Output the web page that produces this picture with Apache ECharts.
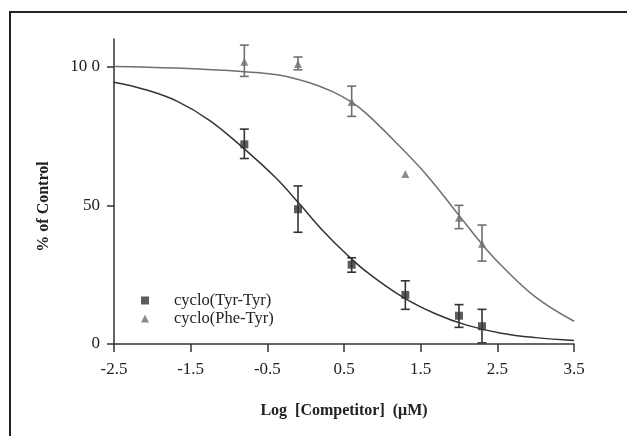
<!DOCTYPE html>
<html>
<head>
<meta charset="utf-8">
<script src="https://cdn.jsdelivr.net/npm/echarts@6/dist/echarts.min.js"></script>
<style>
html,body{margin:0;padding:0;background:#fff;}
#chart{width:627px;height:436px;}
</style>
</head>
<body>
<div id="chart"></div>
<script>
// ---- Data ----
var xTicks = [-2.5, -1.5, -0.5, 0.5, 1.5, 2.5, 3.5];
var yTicks = [0, 50, 100];
var yTickLabels = ['0', '50', '10 0'];

var tyrName = 'cyclo(Tyr-Tyr)';
var tyrX = [-0.8, -0.1, 0.6, 1.3, 2.0, 2.3];
var tyrY = [72.0, 48.6, 28.6, 17.7, 10.2, 6.4];
var tyrLow = [66.9, 40.3, 25.9, 12.5, 6.0, 0.4];
var tyrHigh = [77.5, 57.0, 31.1, 22.8, 14.2, 12.5];

var pheName = 'cyclo(Phe-Tyr)';
var pheX = [-0.8, -0.1, 0.6, 1.3, 2.0, 2.3];
var pheY = [101.8, 101.0, 87.3, 61.3, 45.5, 36.2];
var pheLow = [96.5, 98.9, 82.1, null, 41.6, 29.9];
var pheHigh = [107.8, 103.5, 93.0, null, 50.0, 42.9];

var tyrCurveX = [-2.5, -2.1, -1.68, -1.25, -0.81, -0.4, -0.07, 0.2, 0.55, 0.8, 1.25, 1.7, 2.1, 2.55, 3.0, 3.5];
var tyrCurveY = [94.4, 91.8, 87.6, 80.6, 70.6, 60.2, 50.2, 41.6, 31.9, 25.9, 17.2, 10.8, 6.8, 3.9, 2.3, 1.3];

var pheCurveX = [-2.5, -1.7, -0.8, -0.35, 0.05, 0.35, 0.6, 0.8, 1.23, 1.58, 2.0, 2.3, 2.55, 3.0, 3.5];
var pheCurveY = [100.1, 99.5, 98.2, 97.0, 94.2, 91.0, 87.2, 82.9, 71.2, 60.9, 46.4, 36.0, 28.4, 16.9, 8.2];

// ---- Build ----
function zip(a, b) { return a.map(function (v, i) { return [v, b[i]]; }); }
function errData(x, lo, hi) {
  var out = [];
  for (var i = 0; i < x.length; i++) { if (lo[i] != null && hi[i] != null) out.push([x[i], lo[i], hi[i]]); }
  return out;
}
var DARK = '#333333', GREY = '#6f6f6f';
var FONT = 'Liberation Serif';

function errRender(color) {
  return function (params, api) {
    var x = api.value(0), lo = api.value(1), hi = api.value(2);
    var pH = api.coord([x, hi]), pL = api.coord([x, lo]);
    var w = 4.5;
    var st = { stroke: color, lineWidth: 1.6 };
    return {
      type: 'group',
      children: [
        { type: 'line', shape: { x1: pH[0], y1: pH[1], x2: pL[0], y2: pL[1] }, style: st },
        { type: 'line', shape: { x1: pH[0] - w, y1: pH[1], x2: pH[0] + w, y2: pH[1] }, style: st },
        { type: 'line', shape: { x1: pL[0] - w, y1: pL[1], x2: pL[0] + w, y2: pL[1] }, style: st }
      ]
    };
  };
}

var chart = echarts.init(document.getElementById('chart'), null, { renderer: 'canvas' });
chart.setOption({
  backgroundColor: '#ffffff',
  animation: false,
  textStyle: { fontFamily: FONT },
  graphic: [{
    type: 'polyline',
    shape: { points: [[10, 436], [10, 12], [627, 12]] },
    style: { stroke: '#222', lineWidth: 2, fill: null },
    silent: true
  }],
  grid: { left: 114, right: 53, top: 39, bottom: 92, containLabel: false },
  legend: {
    orient: 'vertical',
    left: 136,
    top: 287,
    itemWidth: 48,
    itemHeight: 8,
    itemGap: 1,
    symbolKeepAspect: true,
    textStyle: { fontFamily: FONT, fontSize: 16.5, color: '#222', lineHeight: 16 },
    data: [
      { name: tyrName, icon: 'path://M0,0L10,0L10,10L0,10Z' },
      { name: pheName, icon: 'path://M5,0L10,10L0,10Z' }
    ]
  },
  xAxis: {
    type: 'value', min: -2.5, max: 3.5, interval: 1,
    name: 'Log  [Competitor]  (\u03bcM)',
    nameLocation: 'middle', nameGap: 59,
    nameTextStyle: { fontFamily: FONT, fontSize: 16, fontWeight: 'bold', color: '#222' },
    axisLine: { onZero: false, lineStyle: { color: '#333', width: 1.5 } },
    axisTick: { show: true, length: 8, inside: false, lineStyle: { color: '#333', width: 1.5 }, customValues: xTicks },
    axisLabel: { fontFamily: FONT, fontSize: 17, color: '#222', margin: 17, customValues: xTicks,
      formatter: function (v) { return String(v); } },
    splitLine: { show: false }
  },
  yAxis: {
    type: 'value', min: 0, max: 110, interval: 50,
    name: '% of Control',
    nameLocation: 'middle', nameGap: 62, nameRotate: 90,
    nameTextStyle: { fontFamily: FONT, fontSize: 16, fontWeight: 'bold', color: '#222', padding: [0, 30, 0, 0] },
    axisLine: { show: true, onZero: false, lineStyle: { color: '#333', width: 1.5 } },
    axisTick: { show: true, length: 7, lineStyle: { color: '#333', width: 1.5 }, customValues: yTicks },
    axisLabel: { fontFamily: FONT, fontSize: 17, color: '#222', margin: 14, customValues: yTicks,
      formatter: function (v) { var i = yTicks.indexOf(v); return i >= 0 ? yTickLabels[i] : ''; } },
    splitLine: { show: false }
  },
  series: [
    { name: 'tyrFit', type: 'line', data: zip(tyrCurveX, tyrCurveY), smooth: 0.4, showSymbol: false,
      lineStyle: { color: DARK, width: 1.5 }, silent: true, z: 2 },
    { name: 'pheFit', type: 'line', data: zip(pheCurveX, pheCurveY), smooth: 0.4, showSymbol: false,
      lineStyle: { color: GREY, width: 1.5 }, silent: true, z: 2 },
    { name: 'tyrErr', type: 'custom', renderItem: errRender(DARK), data: errData(tyrX, tyrLow, tyrHigh),
      encode: { x: 0, y: [1, 2] }, z: 3, silent: true },
    { name: 'pheErr', type: 'custom', renderItem: errRender(GREY), data: errData(pheX, pheLow, pheHigh),
      encode: { x: 0, y: [1, 2] }, z: 3, silent: true },
    { name: tyrName, type: 'scatter', data: zip(tyrX, tyrY), symbol: 'rect', symbolSize: 8,
      itemStyle: { color: DARK }, z: 4 },
    { name: pheName, type: 'scatter', data: zip(pheX, pheY), symbol: 'triangle', symbolSize: 8,
      itemStyle: { color: GREY }, z: 4 }
  ]
});
</script>
</body>
</html>
